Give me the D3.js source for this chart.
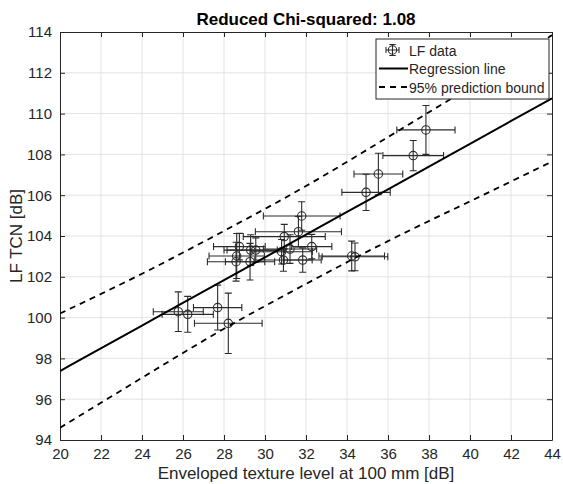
<!DOCTYPE html>
<html lang="en">
<head>
    <meta charset="UTF-8">
    <title>Reduced Chi-squared</title>
    <style>
        body { margin: 0; background: #fff; }
        text { font-family: "Liberation Sans", Arial, sans-serif; fill: #262626; }
    </style>
</head>
<body>
    <svg id="chart" width="563" height="484"></svg>

    <script src="https://d3js.org/d3.v7.min.js"></script>
    <script>
        const width = 563;
        const height = 484;
        const margin = {top: 32, right: 11, bottom: 44, left: 60};

        // measured points (x, y and their half error bars)
        const texture = [25.77, 26.23, 27.69, 28.21, 28.62, 28.59, 28.75, 29.30, 29.55, 29.27, 30.81, 31.22,
                         30.90, 31.84, 30.94, 31.63, 31.79, 32.28, 34.23, 34.39, 34.93, 35.53, 37.23, 37.85];
        const tcn = [100.29, 100.16, 100.49, 99.72, 103.02, 102.74, 103.48, 103.31, 103.31, 102.74, 103.23, 103.36,
                     102.82, 102.82, 103.97, 104.21, 104.98, 103.48, 103.02, 102.98, 106.14, 107.04, 107.94, 109.20];
        const textureErr = [1.22, 1.25, 1.18, 1.65, 1.35, 1.40, 1.26, 1.30, 1.40, 1.20, 1.50, 1.30,
                            1.40, 0.90, 2.00, 2.10, 1.87, 0.98, 1.60, 1.60, 1.18, 1.19, 1.48, 1.42];
        const tcnErr = [0.97, 0.88, 1.10, 1.48, 1.10, 0.95, 0.65, 0.75, 0.60, 0.90, 0.60, 0.70,
                        0.55, 0.60, 0.60, 0.75, 0.70, 0.60, 0.73, 0.68, 0.89, 1.02, 0.74, 1.20];

        // fitted line and prediction bounds
        const fitX = [20, 24, 28, 32, 36, 40, 44];
        const fitY = [97.38, 99.61, 101.84, 104.07, 106.29, 108.52, 110.75];
        const upperY = [100.20, 102.15, 104.25, 106.45, 108.85, 111.30, 113.85];
        const lowerY = [94.60, 97.05, 99.45, 101.65, 103.75, 105.70, 107.65];

        const xTicks = d3.range(20, 45, 2);
        const yTicks = d3.range(94, 115, 2);

        const svg = d3.select("#chart");

        const x = d3.scaleLinear().domain([20, 44]).range([margin.left, width - margin.right]);
        const y = d3.scaleLinear().domain([94, 114]).range([height - margin.bottom, margin.top]);

        svg.append("defs").append("clipPath").attr("id", "plot-clip")
            .append("rect")
            .attr("x", margin.left).attr("y", margin.top)
            .attr("width", x(44) - x(20)).attr("height", y(94) - y(114));

        // grid
        const grid = svg.append("g").attr("stroke", "#e3e3e3").attr("stroke-width", 1);
        grid.selectAll(".gx").data(xTicks.slice(1, -1)).enter().append("line")
            .attr("x1", d => x(d)).attr("x2", d => x(d))
            .attr("y1", y(94)).attr("y2", y(114));
        grid.selectAll(".gy").data(yTicks.slice(1, -1)).enter().append("line")
            .attr("y1", d => y(d)).attr("y2", d => y(d))
            .attr("x1", x(20)).attr("x2", x(44));

        // axes (ticks pointing inwards, box on)
        const tickLen = 5;
        svg.append("g").attr("transform", `translate(0, ${y(94)})`)
            .call(d3.axisBottom(x).tickValues(xTicks).tickSize(-tickLen).tickPadding(8).tickSizeOuter(0))
            .call(g => g.selectAll("text").attr("font-size", 15));
        svg.append("g").attr("transform", `translate(0, ${y(114)})`)
            .call(d3.axisTop(x).tickValues(xTicks).tickSize(-tickLen).tickFormat("").tickSizeOuter(0));
        svg.append("g").attr("transform", `translate(${x(20)}, 0)`)
            .call(d3.axisLeft(y).tickValues(yTicks).tickSize(-tickLen).tickPadding(8).tickSizeOuter(0))
            .call(g => g.selectAll("text").attr("font-size", 15));
        svg.append("g").attr("transform", `translate(${x(44)}, 0)`)
            .call(d3.axisRight(y).tickValues(yTicks).tickSize(-tickLen).tickFormat("").tickSizeOuter(0));
        svg.selectAll(".domain, .tick line").attr("stroke", "#262626");
        svg.selectAll(".tick text").style("fill", "#262626");

        // data with error bars
        const pts = texture.map((v, i) => ({x: v, y: tcn[i], ex: textureErr[i], ey: tcnErr[i]}));
        const cap = 3.5;
        const bars = svg.append("g").attr("clip-path", "url(#plot-clip)")
            .attr("stroke", "#2b2b2b").attr("stroke-width", 1.1).attr("fill", "none");
        const pg = bars.selectAll("g").data(pts).enter().append("g");
        pg.append("path").attr("d", d => {
            const cx = x(d.x), cy = y(d.y);
            const x0 = x(d.x - d.ex), x1 = x(d.x + d.ex);
            const y0 = y(d.y - d.ey), y1 = y(d.y + d.ey);
            return `M${x0},${cy}H${x1}M${x0},${cy - cap}V${cy + cap}M${x1},${cy - cap}V${cy + cap}` +
                   `M${cx},${y0}V${y1}M${cx - cap},${y0}H${cx + cap}M${cx - cap},${y1}H${cx + cap}`;
        });
        pg.append("circle").attr("cx", d => x(d.x)).attr("cy", d => y(d.y)).attr("r", 4.2);

        // fit and bounds
        const lineGen = yy => d3.line().x((d, i) => x(d)).y((d, i) => y(yy[i])).curve(d3.curveNatural)(fitX);
        const lines = svg.append("g").attr("clip-path", "url(#plot-clip)").attr("fill", "none").attr("stroke", "#000");
        lines.append("path").attr("d", lineGen(fitY)).attr("stroke-width", 2);
        lines.append("path").attr("d", lineGen(upperY)).attr("stroke-width", 1.8).attr("stroke-dasharray", "6,5");
        lines.append("path").attr("d", lineGen(lowerY)).attr("stroke-width", 1.8).attr("stroke-dasharray", "6,5");

        // legend
        const lg = svg.append("g").attr("transform", "translate(376, 39)");
        lg.append("rect").attr("width", 173).attr("height", 60)
            .attr("fill", "#fff").attr("stroke", "#262626").attr("stroke-width", 1);
        const sym = lg.append("g").attr("stroke", "#2b2b2b").attr("fill", "none").attr("stroke-width", 1.1);
        sym.append("path").attr("d", "M10,11H23M10,8V14M23,8V14M16.5,5.5V16.5M13.3,5.5H19.7M13.3,16.5H19.7");
        sym.append("circle").attr("cx", 16.5).attr("cy", 11).attr("r", 4.2);
        lg.append("line").attr("x1", 3).attr("x2", 32).attr("y1", 29.5).attr("y2", 29.5)
            .attr("stroke", "#000").attr("stroke-width", 2);
        lg.append("line").attr("x1", 3).attr("x2", 32).attr("y1", 48).attr("y2", 48)
            .attr("stroke", "#000").attr("stroke-width", 1.8).attr("stroke-dasharray", "6,5");
        const lt = ["LF data", "Regression line", "95% prediction bound"];
        lg.selectAll(".lt").data(lt).enter().append("text")
            .attr("x", 33).attr("y", (d, i) => 16.5 + i * 18.5)
            .attr("font-size", 14).text(d => d);

        // labels
        svg.append("text").attr("x", (x(20) + x(44)) / 2).attr("y", 25)
            .attr("text-anchor", "middle").attr("font-size", 17).attr("font-weight", "bold")
            .style("fill", "#000").text("Reduced Chi-squared: 1.08");
        svg.append("text").attr("x", (x(20) + x(44)) / 2).attr("y", 479)
            .attr("text-anchor", "middle").attr("font-size", 17)
            .text("Enveloped texture level at 100 mm [dB]");
        svg.append("text").attr("transform", `translate(22, ${(y(94) + y(114)) / 2}) rotate(-90)`)
            .attr("text-anchor", "middle").attr("font-size", 17)
            .text("LF TCN [dB]");
    </script>
</body>
</html>
